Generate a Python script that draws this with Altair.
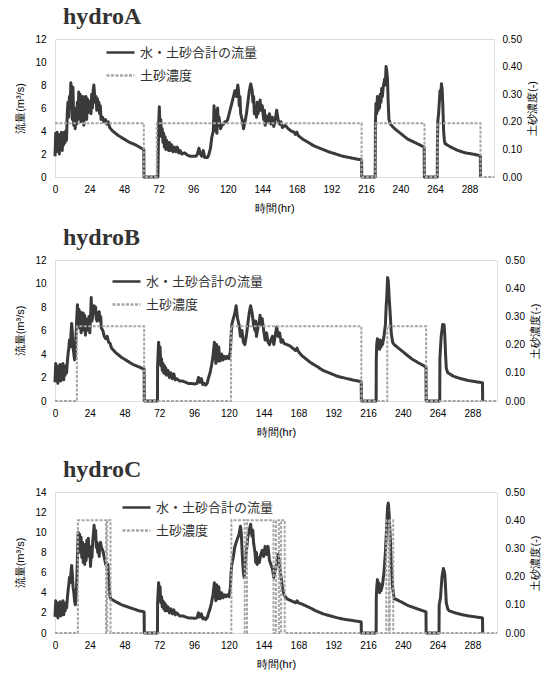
import altair as alt
import pandas as pd

# ---------------- data (hours, m3/s) ----------------
A_FLOW = [(0,1.8),(0.5,3.8),(1,2.2),(1.5,3.9),(2,2.4),(2.5,3.6),(3,2.0),(3.5,3.7),(4,2.6),(4.5,3.9),(5,2.3),(5.5,3.4),(6,2.8),(6.5,3.9),(7,3.0),(7.5,4.0),(8,3.2),(8.5,5.5),(9,6.5),(9.5,5.2),(10,7.0),(10.5,6.0),(11,8.2),(11.5,7.5),(12,5.0),(12.5,7.8),(13,4.5),(13.5,6.0),(14,4.2),(14.5,5.5),(15,4.6),(15.5,6.5),(16,5.0),(16.5,7.4),(17,5.6),(17.5,7.2),(18,4.8),(18.5,6.8),(19,5.2),(19.5,7.0),(20,4.5),(20.5,6.2),(21,5.5),(21.5,7.0),(22,5.0),(22.5,6.8),(23,5.6),(23.5,6.4),(24,5.8),(24.5,6.6),(25,5.5),(25.5,7.2),(26,6.0),(26.5,7.5),(27,8.0),(27.5,7.2),(28,6.5),(28.5,7.0),(29,5.8),(29.5,6.8),(30,6.0),(30.5,6.5),(31,5.5),(31.5,6.2),(32,5.0),(33,5.2),(34,4.8),(35,5.0),(36,4.6),(37,4.8),(38,4.3),(40,4.0),(44,3.6),(48,3.3),(52,3.0),(56,2.8),(60,2.5),(61.7,2.4),(61.8,0),(71.5,0),(72,4.5),(72.5,6.1),(73,4.0),(73.5,5.0),(74,3.5),(74.5,4.2),(75,3.0),(75.5,3.8),(76,2.6),(76.5,3.5),(77,2.4),(77.5,3.2),(78,2.5),(78.5,3.0),(79,2.3),(79.5,3.0),(80,2.3),(81,2.8),(82,2.2),(83,2.6),(84,2.2),(85,2.6),(86,2.1),(87,2.3),(88,2.0),(90,2.1),(92,1.9),(94,1.8),(96,1.8),(98,1.8),(99,2.0),(100,2.5),(101,2.0),(102,1.8),(103,2.3),(104,1.7),(106,1.7),(107,2.0),(108,2.5),(109,3.5),(110,4.0),(110.5,6.2),(111,4.5),(111.5,5.8),(112,4.0),(112.5,3.8),(113,6.0),(113.5,4.5),(114,5.2),(115,4.2),(116,4.5),(117,4.6),(118,4.8),(119,4.8),(120,5.0),(121,5.5),(122,6.0),(123,6.5),(124,7.0),(125,7.5),(126,7.0),(127,8.0),(127.5,7.5),(128,6.2),(128.5,7.0),(129,5.5),(130,5.0),(131,4.2),(132,4.8),(133,5.5),(134,6.5),(135,7.5),(136,8.1),(137,7.5),(137.5,6.5),(138,7.0),(138.5,5.5),(139,6.0),(140,5.2),(140.5,6.5),(141,5.5),(142,6.2),(142.5,6.7),(143,5.8),(144,6.2),(145,5.0),(145.5,5.8),(146,4.5),(147,5.3),(148,4.8),(149,5.5),(150,4.6),(151,5.2),(152,4.4),(153,5.0),(154,5.8),(155,5.0),(156,4.6),(157,4.8),(158,4.3),(160,4.5),(162,4.2),(164,4.0),(166,3.9),(167,3.7),(168,3.9),(169,3.6),(172,3.3),(176,3.0),(180,2.7),(185,2.45),(190,2.2),(195,2.0),(200,1.8),(205,1.68),(210,1.55),(213,1.5),(213.1,0),(222.5,0),(222.6,4.5),(223,6.4),(223.5,5.5),(224,7.0),(224.5,5.8),(225,6.8),(225.5,6.0),(226,7.2),(226.5,6.5),(227,7.7),(227.5,7.0),(228,7.8),(229,8.5),(229.5,8.0),(230,9.6),(230.5,9.2),(231,8.5),(231.5,6.5),(232,5.0),(233,4.6),(236,4.2),(240,3.8),(245,3.3),(250,3.0),(256.5,2.6),(256.6,0),(265.6,0),(265.7,3.0),(266,4.9),(266.5,5.5),(267,6.5),(267.5,7.5),(268,7.0),(268.5,8.1),(269,7.6),(269.5,6.0),(270,4.0),(270.5,3.2),(271,2.9),(275,2.6),(280,2.3),(285,2.1),(290,2.0),(295.5,1.85),(295.6,0)]
A_CONC = [(0,0.195),(61.7,0),(70.7,0.195),(213,0),(222.6,0.195),(256.7,0),(265.7,0.195),(295.6,0),(305,0)]

B_FLOW = [(0,1.6),(0.5,3.2),(1,1.8),(1.5,3.0),(2,1.5),(2.5,2.8),(3,1.9),(3.5,3.1),(4,1.7),(4.5,2.9),(5,2.0),(5.5,3.2),(6,1.8),(6.5,2.7),(7,2.2),(7.5,3.0),(8,2.4),(8.5,3.3),(9,4.0),(9.5,4.5),(10,5.2),(10.5,4.6),(11,5.6),(11.5,6.6),(12,5.8),(12.5,4.5),(13,4.0),(13.5,3.5),(14,3.8),(14.5,5.5),(15,7.0),(15.5,8.2),(16,7.0),(16.5,7.8),(17,6.2),(17.5,7.6),(18,5.8),(18.5,7.2),(19,6.0),(19.5,7.5),(20,6.2),(20.5,7.3),(21,5.6),(21.5,6.8),(22,6.0),(22.5,7.0),(23,6.2),(23.5,7.2),(24,5.8),(24.5,7.0),(25,8.8),(25.5,6.8),(26,7.2),(26.5,7.8),(27,8.1),(27.5,7.5),(28,8.0),(28.5,7.0),(29,6.8),(29.5,7.5),(30,7.0),(30.5,7.6),(31,6.8),(31.5,7.2),(32,6.2),(33,6.0),(34,5.5),(35,5.3),(36,5.5),(37,5.0),(38,4.9),(39,4.5),(42,4.1),(46,3.7),(50,3.4),(54,3.1),(58,2.9),(61.5,2.7),(61.6,0),(70.7,0),(70.8,3.0),(71.5,5.0),(72,4.0),(72.5,4.6),(73,3.0),(73.5,3.6),(74,2.6),(74.5,3.2),(75,2.4),(75.5,3.0),(76,2.3),(76.5,2.8),(77,2.2),(78,2.6),(79,2.0),(80,2.4),(81,1.9),(82,2.3),(83,1.8),(84,1.9),(86,1.7),(88,1.7),(90,1.6),(92,1.5),(94,1.5),(96,1.45),(98,1.5),(99,2.0),(100,1.6),(101,1.9),(102,1.4),(103,1.5),(104,1.35),(105,1.5),(106,2.0),(107,2.4),(108,3.0),(109,3.8),(110,5.0),(110.5,4.0),(111,3.2),(111.5,4.8),(112,4.2),(112.5,3.4),(113,4.6),(113.5,3.8),(114,3.4),(115,4.0),(116,3.5),(117,3.8),(118,3.6),(119,3.8),(120,3.6),(121,4.2),(121.5,5.5),(122,6.5),(123,7.0),(124,7.4),(125,8.1),(125.5,7.5),(126,7.0),(127,6.5),(128,5.5),(129,6.0),(130,5.0),(131,4.8),(132,5.5),(133,6.5),(134,7.5),(135,8.1),(136,7.5),(137,6.5),(138,6.0),(138.5,6.8),(139,5.5),(140,6.2),(141,6.8),(141.5,7.3),(142,6.5),(143,7.0),(144,6.0),(145,5.2),(146,5.8),(147,5.0),(148,4.8),(149,5.2),(150,5.5),(151,4.8),(152,5.6),(153,6.3),(154,5.5),(155,5.8),(156,5.0),(157,5.2),(158,4.9),(160,4.8),(162,4.7),(164,4.5),(166,4.3),(167,4.5),(168,4.2),(170,3.9),(173,3.6),(176,3.3),(180,3.0),(185,2.6),(190,2.35),(195,2.1),(200,1.95),(205,1.8),(211.3,1.65),(211.4,0),(221.6,0),(221.7,3.6),(222,4.8),(222.5,5.3),(223,4.5),(223.5,5.0),(224,4.4),(224.5,5.2),(225,4.6),(225.5,5.0),(226,4.8),(227,5.5),(228,6.5),(228.5,8.0),(229,9.0),(229.5,10.5),(230,10.2),(230.5,9.0),(231,8.0),(231.5,7.0),(232,5.8),(233,5.0),(234,4.8),(238,4.4),(242,4.0),(246,3.6),(250,3.3),(256,2.9),(256.1,0),(265.5,0),(265.6,3.6),(266,4.5),(266.5,5.5),(267,6.0),(267.5,6.5),(268,6.2),(268.5,6.5),(269,5.5),(269.5,4.0),(270,2.8),(271,2.4),(275,2.1),(280,1.9),(285,1.75),(290,1.65),(295,1.55),(295.1,0)]
B_CONC = [(0,0),(15.1,0.265),(61.5,0),(121.5,0.265),(211.4,0),(229.3,0.265),(256.1,0),(305,0)]

C_FLOW = [(0,1.6),(0.5,3.2),(1,1.8),(1.5,3.0),(2,1.5),(2.5,2.9),(3,1.9),(3.5,3.1),(4,1.7),(4.5,2.8),(5,2.1),(5.5,3.2),(6,1.8),(6.5,2.7),(7,2.2),(7.5,3.0),(8,2.5),(8.5,3.4),(9,4.2),(9.5,4.8),(10,5.5),(10.5,5.0),(11,6.0),(11.5,6.7),(12,5.8),(12.5,4.5),(13,4.0),(13.5,3.2),(14,2.8),(14.5,3.5),(15,5.0),(15.5,7.5),(16,10.0),(16.5,9.2),(17,9.8),(17.5,8.0),(18,9.5),(18.5,7.5),(19,9.0),(19.5,7.0),(20,8.5),(20.5,6.8),(21,8.8),(21.5,7.2),(22,9.2),(22.5,8.0),(23,9.4),(23.5,7.6),(24,8.6),(24.5,6.6),(25,8.0),(25.5,7.5),(26,9.0),(26.5,9.8),(27,10.7),(27.5,9.5),(28,10.2),(28.5,8.5),(29,9.0),(29.5,8.0),(30,8.3),(30.5,7.6),(31,8.8),(31.5,9.0),(32,8.5),(33,8.2),(34,7.5),(35,6.8),(35.5,7.0),(36,6.5),(36.5,6.8),(37,5.5),(37.5,4.5),(38,3.6),(38.5,3.4),(42,3.1),(46,2.8),(50,2.6),(54,2.4),(58,2.2),(61.5,2.1),(61.6,0),(70.7,0),(70.8,3.0),(71.5,5.0),(72,4.0),(72.5,4.6),(73,3.0),(73.5,3.6),(74,2.6),(74.5,3.2),(75,2.4),(75.5,3.0),(76,2.2),(76.5,2.8),(77,2.2),(78,2.6),(79,2.0),(80,2.4),(81,1.9),(82,2.3),(83,1.8),(84,2.0),(86,1.7),(88,1.7),(90,1.6),(92,1.5),(94,1.5),(96,1.45),(98,1.5),(99,2.0),(100,1.6),(101,1.9),(102,1.4),(103,1.5),(104,1.35),(105,1.5),(106,2.0),(107,2.4),(108,3.0),(109,3.8),(110,5.0),(110.5,4.0),(111,3.2),(111.5,4.8),(112,4.2),(112.5,3.4),(113,4.6),(113.5,3.8),(114,3.4),(115,4.0),(116,3.5),(117,3.8),(118,3.6),(119,3.8),(120,3.6),(121,4.5),(121.5,6.0),(122,6.8),(123,7.5),(124,8.5),(125,9.0),(126,9.4),(127,9.8),(128,10.6),(128.5,10.0),(129,8.5),(129.5,7.0),(130,6.0),(130.5,5.5),(131,6.5),(132,8.0),(133,9.5),(134,10.2),(135,10.8),(135.5,10.0),(136,9.6),(136.5,10.2),(137,9.0),(138,8.0),(138.5,7.0),(139,8.0),(139.5,6.8),(140,7.5),(141,7.0),(142,7.8),(143,8.2),(144,7.6),(145,8.6),(146,7.8),(147,8.6),(148,7.2),(149,6.8),(150,6.4),(151,5.5),(152,6.2),(153,7.0),(154,7.8),(155,6.8),(156,5.5),(157,4.5),(158,3.8),(159,3.6),(160,3.4),(163,3.2),(166,3.0),(167,3.2),(168,3.0),(170,2.9),(173,2.7),(176,2.5),(180,2.2),(185,1.9),(190,1.7),(195,1.5),(200,1.35),(205,1.25),(211.3,1.1),(211.4,0),(221.6,0),(221.7,3.5),(222,4.5),(222.5,5.3),(223,4.2),(223.5,5.0),(224,4.0),(224.5,4.8),(225,4.2),(226,4.8),(227,6.0),(228,8.0),(228.5,9.5),(229,11.0),(229.5,12.5),(230,12.9),(230.5,12.0),(231,10.5),(231.5,9.0),(232,7.0),(233,4.5),(234,3.4),(236,3.3),(240,3.0),(244,2.7),(248,2.5),(252,2.3),(256,2.1),(256.1,0),(265,0),(265.1,2.8),(266,3.5),(266.5,4.5),(267,5.5),(267.5,6.0),(268,6.4),(268.5,6.2),(269,5.8),(269.5,4.5),(270,3.0),(271,2.4),(272,2.2),(276,2.0),(280,1.85),(285,1.7),(290,1.6),(295,1.5),(295.1,0)]
C_CONC = [(0,0),(15.8,0.40),(35.2,0),(36.0,0.40),(38.3,0),(121.7,0.40),(130.9,0),(132.5,0.40),(150.8,0),(152.5,0.40),(154.5,0),(156.0,0.40),(158.5,0),(228.6,0.40),(230.4,0),(231.0,0.40),(233.4,0),(305,0)]

SERIES = ["水・土砂合計の流量", "土砂濃度"]
X_TICKS = [0, 24, 48, 72, 96, 120, 144, 168, 192, 216, 240, 264, 288]
CONC_TICKS = [0.0, 0.1, 0.2, 0.3, 0.4, 0.5]

FONT = "Noto Sans CJK JP"
LABEL_COLOR = "#444444"


def make_legend(lx, ly, row_pad):
    return alt.Legend(title=None, orient="none", legendX=lx, legendY=ly,
                      symbolType="stroke", symbolSize=784, symbolStrokeWidth=2.5,
                      labelFontSize=13, labelFont=FONT, labelColor="#333333",
                      rowPadding=row_pad, labelOffset=4, padding=0)


def panel(name, flow, conc, ymax, width, height, legend_x, legend_y, row_pad):
    fdf = pd.DataFrame(flow, columns=["t", "v"])
    fdf["series"] = SERIES[0]
    cdf = pd.DataFrame(conc, columns=["t", "v"])
    cdf["series"] = SERIES[1]

    x = alt.X("t:Q", scale=alt.Scale(domain=[0, 305], nice=False, zero=False),
              axis=alt.Axis(values=X_TICKS, title="時間(hr)", grid=False, ticks=False,
                            domain=False, labelPadding=7, titlePadding=8,
                            labelFlush=False, titleFontWeight=400))
    color = alt.Color("series:N",
                      scale=alt.Scale(domain=SERIES, range=["#3a3a3a", "#a6a6a6"]),
                      legend=make_legend(legend_x, legend_y, row_pad))
    dash = alt.StrokeDash("series:N",
                          scale=alt.Scale(domain=SERIES, range=[[1, 0], [3, 1.5]]),
                          legend=make_legend(legend_x, legend_y, row_pad))

    flow_layer = alt.Chart(fdf).mark_line(strokeWidth=3, strokeJoin="round").encode(
        x=x,
        y=alt.Y("v:Q", scale=alt.Scale(domain=[0, ymax], nice=False),
                axis=alt.Axis(values=list(range(0, ymax + 1, 2)), title="流量(m³/s)",
                              grid=False, ticks=False, domain=False, labelPadding=9,
                              titlePadding=9, titleFontWeight=400)),
        color=color, strokeDash=dash, order="t:Q")

    conc_layer = alt.Chart(cdf).mark_line(strokeWidth=2, interpolate="step-after").encode(
        x=x,
        y=alt.Y("v:Q", scale=alt.Scale(domain=[0, 0.5], nice=False),
                axis=alt.Axis(orient="right", values=CONC_TICKS, format=".2f",
                              title="土砂濃度(-)", titleAngle=270, titleBaseline="top",
                              grid=False, ticks=False, domain=False, labelPadding=8,
                              titlePadding=5, titleFontWeight=400)),
        color=color, strokeDash=dash, order="t:Q")

    return alt.layer(flow_layer, conc_layer).resolve_scale(y="independent").properties(
        width=width, height=height,
        title=alt.TitleParams(text=name, anchor="start", frame="group",
                              font="Liberation Serif", fontSize=24, fontWeight="bold",
                              color="#333333", dx=8, offset=5))


pa = panel("hydroA", A_FLOW, A_CONC, 12, 439, 138, 50, -2, 0)
pb = panel("hydroB", B_FLOW, B_CONC, 12, 442, 141, 56, 6, 0)
pc = panel("hydroC", C_FLOW, C_CONC, 14, 442, 141, 66, 0, 0)

top_pair = alt.vconcat(pa, pb, spacing=11).resolve_scale(
    color="independent", strokeDash="independent")

chart = alt.vconcat(top_pair, pc, spacing=19).resolve_scale(
    color="independent", strokeDash="independent"
).properties(
    padding={"left": 14, "top": 4, "right": 0, "bottom": 0}
).configure_view(
    stroke="#707070", strokeWidth=1.5
).configure_axis(
    labelFont=FONT, labelFontSize=12, labelColor=LABEL_COLOR,
    titleFont=FONT, titleFontSize=12, titleColor=LABEL_COLOR, titleFontWeight=400
).configure(background="white")

chart.save("out.html", embed_options={"renderer": "svg", "actions": False})
